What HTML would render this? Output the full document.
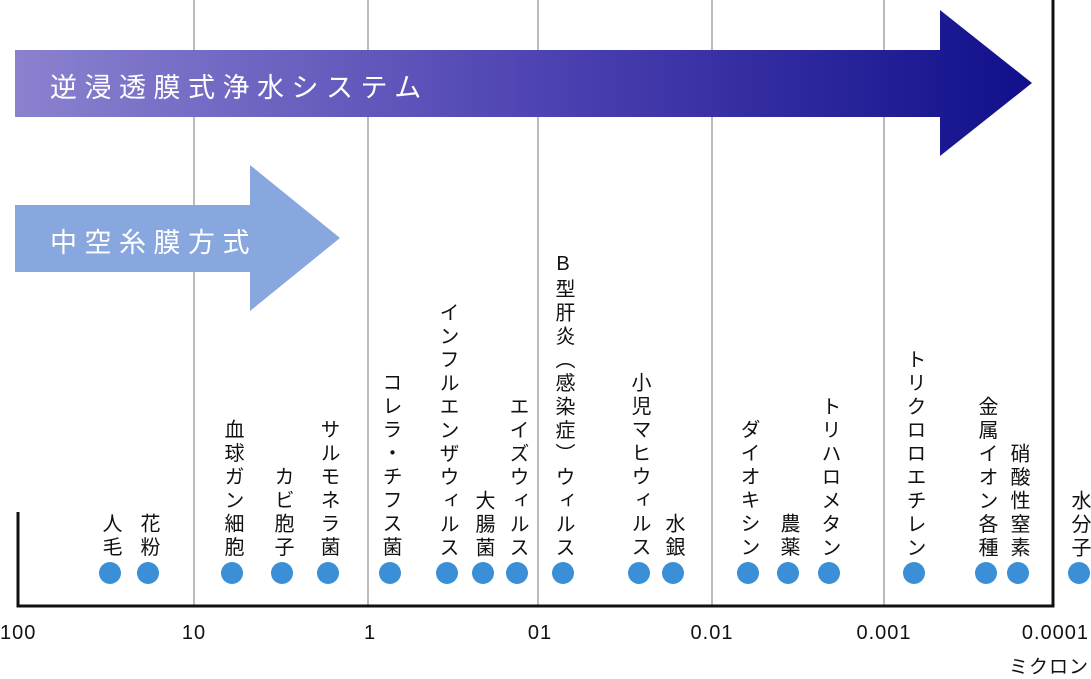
<!DOCTYPE html>
<html><head><meta charset="utf-8"><style>
body{margin:0;width:1091px;height:676px;background:#fff;position:relative;overflow:hidden;font-family:"Liberation Sans","Noto Sans CJK JP",sans-serif;color:#111}
.v{position:absolute;writing-mode:vertical-rl;text-orientation:mixed;font-size:20px;line-height:22px;letter-spacing:3.5px;bottom:116px;transform:translateX(-50%)}
.a{position:absolute;top:622px;font-size:20px;letter-spacing:1px;white-space:nowrap;transform:translateX(-50%)}
.t{position:absolute;color:#fff;font-size:27px;letter-spacing:7.5px;white-space:nowrap}
</style></head><body>
<svg width="1091" height="676" style="position:absolute;left:0;top:0">
<defs><linearGradient id="g" x1="0" x2="1"><stop offset="0" stop-color="#8a82cf"/><stop offset="0.55" stop-color="#4a3fb0"/><stop offset="1" stop-color="#10108a"/></linearGradient></defs>
<g stroke="#777" stroke-width="1">
<line x1="194" y1="0" x2="194" y2="606"/><line x1="368" y1="0" x2="368" y2="606"/><line x1="538" y1="0" x2="538" y2="606"/><line x1="712" y1="0" x2="712" y2="606"/><line x1="884" y1="0" x2="884" y2="606"/></g>
<polygon points="15,50 940,50 940,10 1032,83 940,156 940,117 15,117" fill="url(#g)"/>
<polygon points="15,205 250,205 250,165 340,238 250,311 250,272 15,272" fill="#88a7df"/>
<g stroke="#111" stroke-width="3" fill="none"><polyline points="18,512 18,606 1053,606 1053,0"/></g>
<g fill="#3a8fd6">
<circle cx="110" cy="573" r="11"/><circle cx="148" cy="573" r="11"/><circle cx="232" cy="573" r="11"/><circle cx="282" cy="573" r="11"/><circle cx="328" cy="573" r="11"/><circle cx="390" cy="573" r="11"/><circle cx="447" cy="573" r="11"/><circle cx="483" cy="573" r="11"/><circle cx="517" cy="573" r="11"/><circle cx="563" cy="573" r="11"/><circle cx="639" cy="573" r="11"/><circle cx="673" cy="573" r="11"/><circle cx="748" cy="573" r="11"/><circle cx="788" cy="573" r="11"/><circle cx="829" cy="573" r="11"/><circle cx="914" cy="573" r="11"/><circle cx="986" cy="573" r="11"/><circle cx="1018" cy="573" r="11"/><circle cx="1079" cy="573" r="11"/></g>
</svg>
<div class="t" style="left:50px;top:66px">逆浸透膜式浄水システム</div>
<div class="t" style="left:50px;top:221px">中空糸膜方式</div>
<div class="v" style="left:110px">人毛</div>
<div class="v" style="left:148px">花粉</div>
<div class="v" style="left:232px">血球ガン細胞</div>
<div class="v" style="left:282px">カビ胞子</div>
<div class="v" style="left:328px">サルモネラ菌</div>
<div class="v" style="left:390px">コレラ・チフス菌</div>
<div class="v" style="left:447px">インフルエンザウィルス</div>
<div class="v" style="left:483px">大腸菌</div>
<div class="v" style="left:517px">エイズウィルス</div>
<div class="v" style="left:563px"><span style="text-orientation:upright">B</span>型肝炎（感染症）ウィルス</div>
<div class="v" style="left:639px">小児マヒウィルス</div>
<div class="v" style="left:673px">水銀</div>
<div class="v" style="left:748px">ダイオキシン</div>
<div class="v" style="left:788px">農薬</div>
<div class="v" style="left:829px">トリハロメタン</div>
<div class="v" style="left:914px">トリクロロエチレン</div>
<div class="v" style="left:986px">金属イオン各種</div>
<div class="v" style="left:1018px">硝酸性窒素</div>
<div class="v" style="left:1079px">水分子</div>
<div class="a" style="left:0;transform:none">100</div>
<div class="a" style="left:194px">10</div>
<div class="a" style="left:370px">1</div>
<div class="a" style="left:540px">01</div>
<div class="a" style="left:712px">0.01</div>
<div class="a" style="left:884px">0.001</div>
<div class="a" style="right:2px;left:auto;transform:none">0.0001</div>
<div class="a" style="right:2px;left:auto;transform:none;top:652px;font-size:19px">ミクロン</div>
</body></html>
